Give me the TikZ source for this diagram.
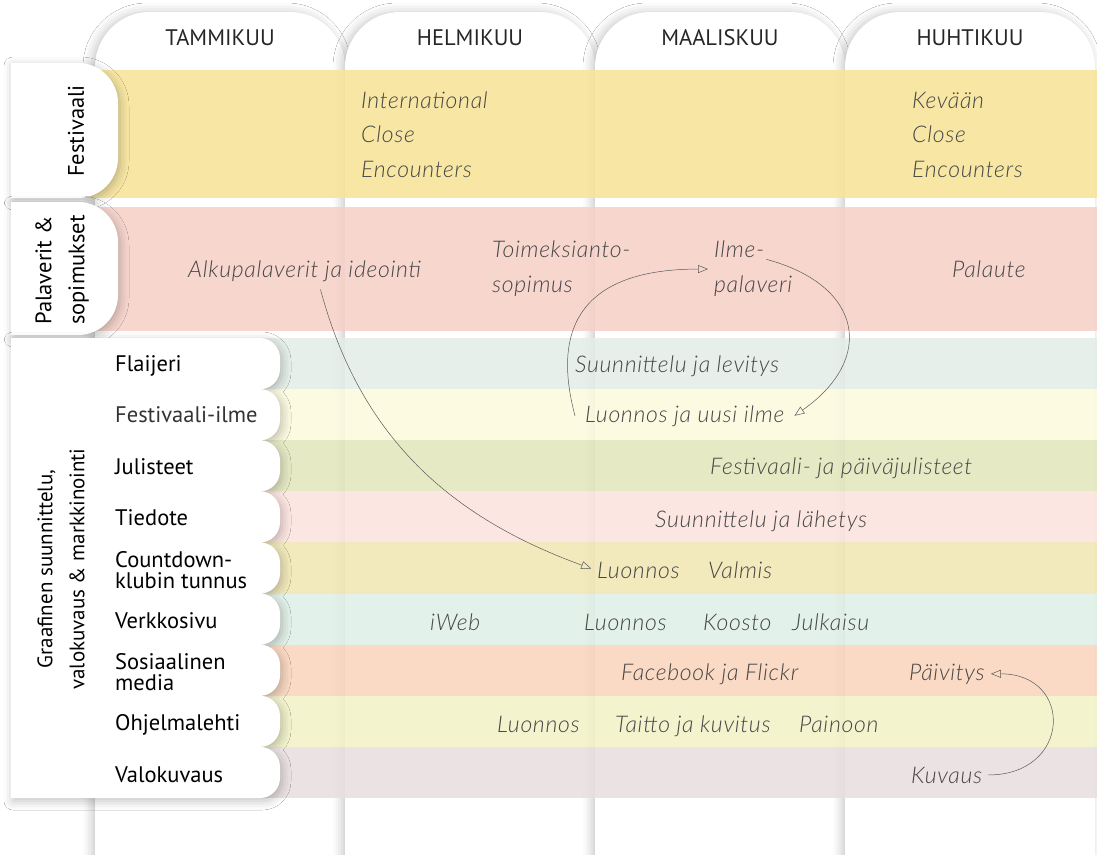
\documentclass[tikz,border=0pt]{standalone}
\usepackage{fontspec}
\setmainfont{PT Sans}
\newfontfamily\hand{Lato Light Italic}[LetterSpace=3]
\usetikzlibrary{arrows.meta,shadows.blur}
\definecolor{festc}{RGB}{248,228,150}
\definecolor{palac}{RGB}{246,208,199}
\definecolor{flaic}{RGB}{227,237,231}
\definecolor{ilmec}{RGB}{253,250,222}
\definecolor{julic}{RGB}{226,231,187}
\definecolor{tiedc}{RGB}{252,227,222}
\definecolor{countc}{RGB}{240,230,178}
\definecolor{verkc}{RGB}{222,239,230}
\definecolor{somec}{RGB}{250,212,187}
\definecolor{ohjc}{RGB}{242,242,198}
\definecolor{valoc}{RGB}{232,222,223}
\definecolor{inkc}{RGB}{70,70,70}
\newcommand{\kasi}{\hand\fontsize{23}{34.5}\selectfont}

\begin{document}
\begin{tikzpicture}[x=1pt, y=-1pt, >={Triangle[open,length=10pt,width=8pt]},
  month/.style={font=\fontsize{22.5}{24}\selectfont, text=black!85, anchor=base},
  rowlabel/.style={font=\fontsize{22.5}{21}\selectfont, anchor=base west, inner sep=0pt},
  sidelabel/.style={font=\fontsize{22.5}{33}\selectfont, rotate=90},
  hand/.style={font=\kasi, text=inkc, anchor=base west, inner sep=2pt},
  band/.style={fill opacity=0.86},
  colshadow/.style={blur shadow={shadow xshift=-3pt, shadow yshift=0pt, shadow blur radius=9pt, shadow opacity=22}},
  tabshadow/.style={blur shadow={shadow xshift=2pt, shadow yshift=-3pt, shadow blur radius=9pt, shadow opacity=25}},
  link/.style={draw=black!65, line width=0.5pt, ->}]
  \useasboundingbox (0,0) rectangle (1097,854);
  \fill[white] (0,0) rectangle (1097,854);

  % Columns
  \foreach \x in {95,345,595,845} {
    \fill[white, colshadow] (\x,870) -- (\x,67) arc[start angle=180, end angle=270, radius=55]
      -- ({\x+195},12) arc[start angle=270, end angle=360, radius=55] -- ({\x+250},870) -- cycle;
  }
  \node[month] (jan) at (220,45) {TAMMIKUU};
  \node[month] (feb) at (470,45) {HELMIKUU};
  \node[month] (mar) at (720,45) {MAALISKUU};
  \node[month] (apr) at (970,45) {HUHTIKUU};

  % Bands
  \fill[festc, band] (60,70) rectangle (1097,198);
  \fill[palac, band] (60,207) rectangle (1097,331);
  \foreach \c [count=\k from 0] in {flaic,ilmec,julic,tiedc,countc,verkc,somec,ohjc,valoc}
    \fill[\c, band] (200,{338+51.11*\k}) rectangle (1097,{338+51.11*(\k+1)});

  % Tabs
  \fill[white, tabshadow] (11,63) -- (78,63) arc[start angle=-90, end angle=0, radius=40]
    -- (118,158) arc[start angle=0, end angle=90, radius=40] -- (11,198) -- cycle;
  \fill[white, tabshadow] (11,202) -- (78,202) arc[start angle=-90, end angle=0, radius=40]
    -- (118,295) arc[start angle=0, end angle=90, radius=40] -- (11,335) -- cycle;
  \fill[white, tabshadow] (11,338)
    foreach \k in {0,...,8} { -- (260,{338+51.11*\k}) arc[start angle=-90, end angle=0, radius=20]
      -- (280,{338+51.11*(\k+1)-20}) arc[start angle=0, end angle=90, radius=20] }
    -- (11,798) -- cycle;

  \node[sidelabel] (festlab) at (76,131) {Festivaali};
  \node[sidelabel, align=left] (palalab) at (62,270) {Palaverit \&\\sopimukset};
  \node[sidelabel, font=\fontsize{21}{32}\selectfont, align=center] (graflab) at (61,569) {Graafinen suunnittelu,\\valokuvaus \& markkinointi};

  \node[rowlabel] (flai) at (115,371) {Flaijeri};
  \node[rowlabel, text=black!80] (ilme) at (115,422) {Festivaali-ilme};
  \node[rowlabel] (juli) at (115,474) {Julisteet};
  \node[rowlabel] (tied) at (115,525) {Tiedote};
  \node[rowlabel, anchor=west, align=left] (count) at (115,570) {Countdown-\\klubin tunnus};
  \node[rowlabel] (verk) at (115,628) {Verkkosivu};
  \node[rowlabel, anchor=west, align=left] (some) at (115,672) {Sosiaalinen\\media};
  \node[rowlabel] (ohj) at (115,730) {Ohjelmalehti};
  \node[rowlabel] (valo) at (115,782) {Valokuvaus};

  % Texts
  \node[hand, align=left] (intl) at (359,177) {International\\Close\\Encounters};
  \node[hand, align=left] (kevaan) at (910,177) {Kevään\\Close\\Encounters};
  \node[hand] (alku) at (186,277) {Alkupalaverit ja ideointi};
  \node[hand, align=left] (toim) at (490,292) {Toimeksianto-\\sopimus};
  \node[hand] (ilmeA) at (712,257) {Ilme-};
  \node[hand] (ilmeB) at (712,292) {palaveri};
  \node[hand] (palaute) at (950,277) {Palaute};
  \node[hand] (suunLev) at (573,372) {Suunnittelu ja levitys};
  \node[hand, inner xsep=10pt] (luonIlme) at (575,422) {Luonnos ja uusi ilme};
  \node[hand] (fjul) at (708,474) {Festivaali- ja päiväjulisteet};
  \node[hand] (suunLah) at (653,527) {Suunnittelu ja lähetys};
  \node[hand] (cdLuon) at (595,578) {Luonnos};
  \node[hand] (cdValmis) at (706,578) {Valmis};
  \node[hand] (iweb) at (428,630) {iWeb};
  \node[hand] (vLuon) at (582,630) {Luonnos};
  \node[hand] (koosto) at (701,630) {Koosto};
  \node[hand] (julkaisu) at (790,630) {Julkaisu};
  \node[hand] (fb) at (619,680) {Facebook ja Flickr};
  \node[hand, inner xsep=6pt] (paiv) at (903,680) {Päivitys};
  \node[hand] (ohjLuon) at (495,732) {Luonnos};
  \node[hand] (taitto) at (613,732) {Taitto ja kuvitus};
  \node[hand] (painoon) at (797,732) {Painoon};
  \node[hand, inner xsep=6pt] (kuvaus) at (905,783) {Kuvaus};

  % Edges
  \draw[link, shorten >=4pt] ([xshift=16pt,yshift=-6pt]alku.south) to[out=-75, in=160] (cdLuon.west);
  \draw[link, shorten >=4pt] (luonIlme.west) to[out=105, in=180, looseness=1.4] ([yshift=4pt]ilmeB.north west);
  \draw[link] (ilmeA.south east) to[out=-15, in=35, looseness=1.6] (luonIlme.east);
  \draw[link] (kuvaus.east) to[out=0, in=0, looseness=2.1] (paiv.east);
\end{tikzpicture}
\end{document}
